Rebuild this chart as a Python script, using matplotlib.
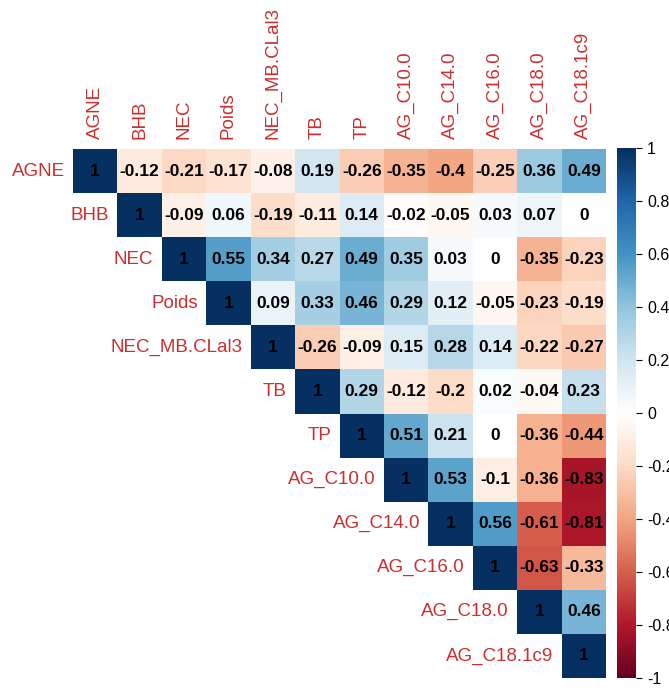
import numpy as np
import matplotlib
matplotlib.use("Agg")
import matplotlib.pyplot as plt
from matplotlib.colors import LinearSegmentedColormap, Normalize
from matplotlib.colorbar import ColorbarBase

plt.rcParams['font.family'] = ['Liberation Sans', 'DejaVu Sans']

variables = ["AGNE", "BHB", "NEC", "Poids", "NEC_MB.CLal3", "TB", "TP",
             "AG_C10.0", "AG_C14.0", "AG_C16.0", "AG_C18.0", "AG_C18.1c9"]

# upper-triangle rows (starting at the diagonal)
row_AGNE = [1, -0.12, -0.21, -0.17, -0.08, 0.19, -0.26, -0.35, -0.4, -0.25, 0.36, 0.49]
row_BHB = [1, -0.09, 0.06, -0.19, -0.11, 0.14, -0.02, -0.05, 0.03, 0.07, 0]
row_NEC = [1, 0.55, 0.34, 0.27, 0.49, 0.35, 0.03, 0, -0.35, -0.23]
row_Poids = [1, 0.09, 0.33, 0.46, 0.29, 0.12, -0.05, -0.23, -0.19]
row_NEC_MB = [1, -0.26, -0.09, 0.15, 0.28, 0.14, -0.22, -0.27]
row_TB = [1, 0.29, -0.12, -0.2, 0.02, -0.04, 0.23]
row_TP = [1, 0.51, 0.21, 0, -0.36, -0.44]
row_C10 = [1, 0.53, -0.1, -0.36, -0.83]
row_C14 = [1, 0.56, -0.61, -0.81]
row_C16 = [1, -0.63, -0.33]
row_C18 = [1, 0.46]
row_C181 = [1]

rows = [row_AGNE, row_BHB, row_NEC, row_Poids, row_NEC_MB, row_TB, row_TP,
        row_C10, row_C14, row_C16, row_C18, row_C181]

n = len(variables)
M = np.full((n, n), np.nan)
for i, r in enumerate(rows):
    M[i, i:] = r
Mm = np.ma.masked_invalid(M)

cmap = LinearSegmentedColormap.from_list("RdBu_corr", [
    "#67001F", "#B2182B", "#D6604D", "#F4A582", "#FDDBC7", "#FFFFFF",
    "#D1E5F0", "#92C5DE", "#4393C3", "#2166AC", "#053061"], N=200)
norm = Normalize(-1, 1)

W, H = 669, 688
fig = plt.figure(figsize=(W / 100, H / 100), dpi=100)

gx0, gx1, gy0, gy1 = 73, 606, 149, 678
ax = fig.add_axes([gx0 / W, 1 - gy1 / H, (gx1 - gx0) / W, (gy1 - gy0) / H])
ax.pcolormesh(np.arange(n + 1), np.arange(n + 1), Mm, cmap=cmap, norm=norm)
ax.set_xlim(0, n)
ax.set_ylim(n, 0)
ax.axis('off')

for i in range(n):
    for j in range(i, n):
        v = M[i, j]
        s = "1" if v == 1 else ("0" if v == 0 else f"{v:g}")
        ax.text(j + 0.5, i + 0.5, s, ha='center', va='center',
                fontsize=12.5, fontweight='bold', color='black')

lab_col = '#CC2F2F'
for i, name in enumerate(variables):
    # row label
    ax.annotate(name, xy=(i, i + 0.5), xytext=(-6, 0), textcoords='offset points',
                ha='right', va='center', fontsize=13.5, color=lab_col,
                annotation_clip=False)
    # column label
    ax.annotate(name, xy=(i + 0.5, 0), xytext=(0, 7), textcoords='offset points',
                ha='center', va='bottom', rotation=90, fontsize=13.5, color=lab_col,
                annotation_clip=False)

cax = fig.add_axes([617 / W, 1 - 678 / H, 19 / W, (678 - 148) / H])
cb = ColorbarBase(cax, cmap=cmap, norm=norm, orientation='vertical')
ticks = np.round(np.arange(-1, 1.01, 0.2), 1)
cb.set_ticks(ticks)
cb.set_ticklabels([f"{t:g}" if t != 0 else "0" for t in ticks])
cb.outline.set_visible(False)
cax.tick_params(labelsize=11.5, length=4, width=0.8, colors='black', pad=4)

fig.savefig("out.png", dpi=100)
